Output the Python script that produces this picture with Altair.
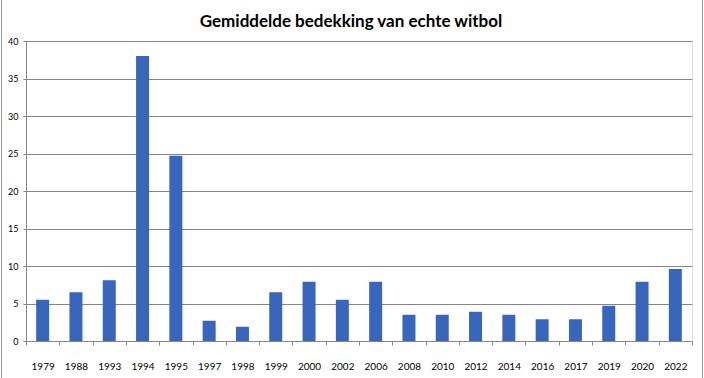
import altair as alt
import pandas as pd

years = ["1979", "1988", "1993", "1994", "1995", "1997", "1998", "1999", "2000", "2002",
         "2006", "2008", "2010", "2012", "2014", "2016", "2017", "2019", "2020", "2022"]
values = [5.5, 6.5, 8.1, 38.0, 24.7, 2.7, 1.9, 6.5, 7.9, 5.5,
          7.9, 3.5, 3.5, 3.9, 3.5, 2.9, 2.9, 4.7, 7.9, 9.6]
y_ticks = [0, 5, 10, 15, 20, 25, 30, 35, 40]
title_text = "Gemiddelde bedekking van echte witbol"

df = pd.DataFrame({"jaar": years, "bedekking": values})

GRAY = "#868686"
FONT = "Lato"

bars = alt.Chart(df).mark_bar(size=13, color="#3866BC").encode(
    x=alt.X("jaar:N", sort=years,
            scale=alt.Scale(paddingInner=0, paddingOuter=0),
            axis=alt.Axis(title=None, labelAngle=0, tickBand="extent",
                          domainColor=GRAY, tickColor=GRAY, tickSize=4,
                          labelPadding=16, labelFont=FONT, labelFontSize=10,
                          labelColor="#000000", grid=False)),
    y=alt.Y("bedekking:Q",
            scale=alt.Scale(domain=[0, 40], nice=False),
            axis=alt.Axis(title=None, values=y_ticks, domainColor=GRAY,
                          tickColor=GRAY, tickSize=3, labelPadding=5,
                          labelFont=FONT, labelFontSize=9, labelColor="#000000",
                          gridColor=GRAY, gridWidth=1)),
)

title_df = pd.DataFrame({"t": [title_text]})
title = alt.Chart(title_df).mark_text(font=FONT, fontSize=17, fontWeight="bold",
                                      color="#000000", align="center",
                                      baseline="middle").encode(
    text="t:N", x=alt.value(325), y=alt.value(-19))

border_df = pd.DataFrame({"k": ["l", "r"]})
left_border = alt.Chart(border_df.iloc[:1]).mark_rule(color="#9a9a9a", strokeWidth=1).encode(
    x=alt.value(-24.5), y=alt.value(-41), y2=alt.value(337))
right_border = alt.Chart(border_df.iloc[1:]).mark_rule(color="#9a9a9a", strokeWidth=1).encode(
    x=alt.value(676.5), y=alt.value(-41), y2=alt.value(337))

chart = alt.layer(bars, title, left_border, right_border).properties(
    width=666, height=300,
    autosize=alt.AutoSizeParams(type="none"),
    padding={"left": 26, "top": 41, "right": 12, "bottom": 37},
).configure_view(stroke=None).configure(background="white")

chart.save("out.html", embed_options={"renderer": "svg", "actions": False})
